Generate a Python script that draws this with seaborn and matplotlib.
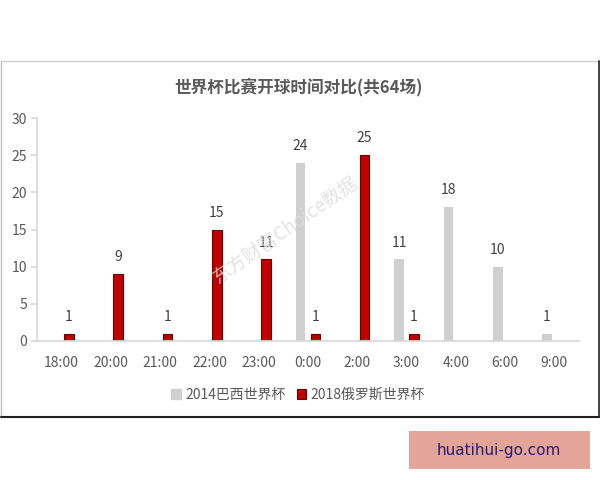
import pandas as pd
import matplotlib.pyplot as plt
import seaborn as sns
from matplotlib.lines import Line2D
from matplotlib.patches import Rectangle

sns.set_theme(style="white")
plt.rcParams['font.family'] = ['Noto Sans CJK SC', 'DejaVu Sans']

times = ['18:00', '20:00', '21:00', '22:00', '23:00', '0:00', '2:00', '3:00', '4:00', '6:00', '9:00']
series = ['2014巴西世界杯', '2018俄罗斯世界杯']
wc2014 = [0, 0, 0, 0, 0, 24, 0, 11, 18, 10, 1]
wc2018 = [1, 9, 1, 15, 11, 1, 25, 1, 0, 0, 0]
yticks = [0, 5, 10, 15, 20, 25, 30]

df = pd.DataFrame({
    'time': times * 2,
    'series': [series[0]] * len(times) + [series[1]] * len(times),
    'count': wc2014 + wc2018,
})

fig = plt.figure(figsize=(6, 4.8), dpi=100)
ax = fig.add_axes([37 / 600, 1 - 341 / 480, 542 / 600, 223 / 480])

sns.barplot(data=df, x='time', y='count', hue='series', order=times, hue_order=series,
            palette=['#d0d0d0', '#c00000'], saturation=1, width=0.6, gap=0.35,
            errorbar=None, ax=ax)

# dark edge on the red bars, none on grey / zero bars
for bar in ax.containers[1]:
    if bar.get_height() > 0:
        bar.set_edgecolor('#6a0000')
        bar.set_linewidth(0.8)
    else:
        bar.set_linewidth(0)
for bar in ax.containers[0]:
    bar.set_linewidth(0)

for cont, vals in zip(ax.containers, [wc2014, wc2018]):
    ax.bar_label(cont, labels=[str(v) if v else '' for v in vals], padding=7,
                 fontsize=10, color='#404040')

ax.set_xlim(-0.5, len(times) - 0.5)
ax.set_ylim(0, 30)
ax.set_yticks(yticks)
ax.set_xlabel('')
ax.set_ylabel('')
for s in ['top', 'right']:
    ax.spines[s].set_visible(False)
ax.spines['left'].set_color('#d9d9d9')
ax.spines['bottom'].set_color('#d9d9d9')
ax.tick_params(axis='y', left=True, length=4, color='#d9d9d9', labelsize=10, labelcolor='#595959', pad=3)
ax.tick_params(axis='x', bottom=False, labelsize=10, labelcolor='#595959', pad=5)

ax.legend_.remove()
handles = [Rectangle((0, 0), 1, 1, color='#d0d0d0'),
           Rectangle((0, 0), 1, 1, facecolor='#c00000', edgecolor='#6a0000', linewidth=0.8)]
fig.legend(handles, series, loc='center', bbox_to_anchor=(298 / 600, 1 - 395 / 480), ncol=2,
           frameon=False, fontsize=10, handlelength=0.7, handleheight=0.7, handletextpad=0.3,
           columnspacing=0.8, labelcolor='#595959')

fig.text(298 / 600, 1 - 87 / 480, '世界杯比赛开球时间对比(共64场)', ha='center', va='center',
         fontsize=12, fontweight='bold', color='#595959')

# watermark
fig.text(285 / 600, 1 - 230 / 480, '东方财富Choice数据', ha='center', va='center', rotation=35,
         fontsize=13.5, color='#dcdcdc', alpha=0.8, zorder=0)

# frame around the chart
fig.add_artist(Line2D([1 / 600, 599 / 600], [1 - 61 / 480] * 2, color='#cfcfcf', lw=1))
fig.add_artist(Line2D([1 / 600] * 2, [1 - 61 / 480, 1 - 417 / 480], color='#bfbfbf', lw=1))
fig.add_artist(Line2D([1 / 600, 599 / 600], [1 - 417 / 480] * 2, color='#222222', lw=1.5))
fig.add_artist(Line2D([599 / 600] * 2, [1 - 61 / 480, 1 - 417 / 480], color='#222222', lw=1.2))

# site badge
fig.add_artist(Rectangle((409 / 600, 1 - 469 / 480), 181 / 600, 38 / 480, facecolor='#e3a599',
                         edgecolor='none', transform=fig.transFigure))
fig.text(499 / 600, 1 - 450 / 480, 'huatihui-go.com', ha='center', va='center',
         fontsize=11, color='#2b1a70', family='DejaVu Sans')

fig.savefig('out.png', dpi=100, facecolor='white')
